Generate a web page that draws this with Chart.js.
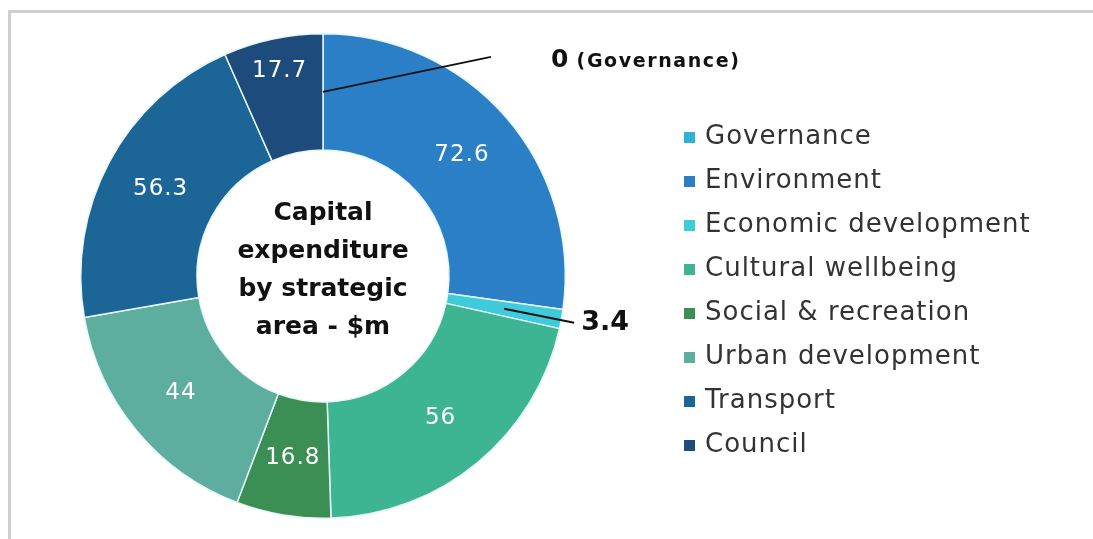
<!DOCTYPE html>
<html lang="en">
<head>
    <meta charset="UTF-8">
    <title>Capital expenditure by strategic area</title>
    <script src="https://cdn.jsdelivr.net/npm/chart.js"></script>
    <style>
        body { margin: 0; padding: 0; background: #fff; }
        #wrap { position: relative; width: 1093px; height: 539px; }
    </style>
</head>
<body>

<div id="wrap">
    <canvas id="capexChart" width="1093" height="539"></canvas>
</div>

<script>
    // Strategic areas and capital expenditure ($m)
    const categories = ['Governance', 'Environment', 'Economic development', 'Cultural wellbeing',
        'Social & recreation', 'Urban development', 'Transport', 'Council'];
    const values = [0, 72.6, 3.4, 56, 16.8, 44, 56.3, 17.7];
    const colours = ['#2fb3d4', '#2b7fc6', '#3fcbdc', '#3db592', '#3b8f55', '#5eae9f', '#1c6697', '#1d4c7c'];
    const centreTitle = ['Capital', 'expenditure', 'by strategic', 'area - $m'];

    // labels shown outside the ring with a leader line
    const callouts = {
        0: { dx: 168, dy: -35, big: '0', small: ' (Governance)' },
        2: { dx: 70, dy: 14, big: '3.4', small: '' }
    };

    const framePlugin = {
        id: 'frame',
        beforeDraw(chart) {
            const ctx = chart.ctx;
            ctx.save();
            ctx.strokeStyle = '#cfcfcf';
            ctx.lineWidth = 3;
            ctx.beginPath();
            ctx.moveTo(9.5, chart.height);
            ctx.lineTo(9.5, 11.5);
            ctx.lineTo(chart.width, 11.5);
            ctx.stroke();
            ctx.restore();
        }
    };

    const labelPlugin = {
        id: 'sliceLabels',
        afterDraw(chart) {
            const ctx = chart.ctx;
            const meta = chart.getDatasetMeta(0);
            const arcs = meta.data;
            ctx.save();

            // values inside the slices
            ctx.fillStyle = '#ffffff';
            ctx.font = '23px "DejaVu Sans"';
            ctx.letterSpacing = '1px';
            ctx.textAlign = 'center';
            ctx.textBaseline = 'middle';
            arcs.forEach((arc, i) => {
                if (callouts[i]) return;
                let p = arc.tooltipPosition();
                if (i === arcs.length - 1) {
                    // council label sits nearer the outer edge
                    const mid = (arc.startAngle + arc.endAngle) / 2;
                    const r = arc.innerRadius + (arc.outerRadius - arc.innerRadius) * 0.72;
                    p = { x: arc.x + Math.cos(mid) * r, y: arc.y + Math.sin(mid) * r };
                }
                ctx.fillText(values[i], p.x, p.y);
            });

            // leader lines and outside labels
            Object.keys(callouts).forEach(k => {
                const c = callouts[k];
                const p = arcs[k].tooltipPosition();
                const ex = p.x + c.dx, ey = p.y + c.dy;
                ctx.strokeStyle = '#111';
                ctx.lineWidth = 2;
                ctx.beginPath();
                ctx.moveTo(p.x, p.y);
                ctx.lineTo(ex, ey);
                ctx.stroke();
                ctx.fillStyle = '#111';
                ctx.textAlign = 'left';
                ctx.letterSpacing = '0px';
                if (c.small) {
                    ctx.font = 'bold 25px "DejaVu Sans"';
                    ctx.fillText(c.big, ex + 60, ey + 4);
                    const w = ctx.measureText(c.big).width;
                    ctx.font = 'bold 19px "DejaVu Sans"';
                    ctx.letterSpacing = '1.6px';
                    ctx.fillText(c.small, ex + 60 + w, ey + 5);
                } else {
                    ctx.font = 'bold 27px "DejaVu Sans"';
                    ctx.fillText(c.big, ex + 7, ey);
                }
            });

            // centre title
            ctx.fillStyle = '#111';
            ctx.textAlign = 'center';
            ctx.letterSpacing = '0px';
            ctx.font = 'bold 25px "DejaVu Sans"';
            const cx = arcs[0].x, cy = arcs[0].y - 6;
            const lh = 38;
            centreTitle.forEach((line, i) => {
                ctx.fillText(line, cx, cy + (i - (centreTitle.length - 1) / 2) * lh);
            });

            // legend
            ctx.textAlign = 'left';
            ctx.font = '26px "DejaVu Sans"';
            ctx.letterSpacing = '1px';
            categories.forEach((name, i) => {
                const y = 137 + i * 44;
                ctx.fillStyle = colours[i];
                ctx.fillRect(684, y - 5, 11, 11);
                ctx.fillStyle = '#333333';
                ctx.fillText(name, 705, y);
            });
            ctx.restore();
        }
    };

    const ctx = document.getElementById('capexChart').getContext('2d');
    const capexChart = new Chart(ctx, {
        type: 'doughnut',
        data: {
            labels: categories,
            datasets: [{
                data: values,
                backgroundColor: colours,
                borderColor: '#e6f7f8',
                borderWidth: 1.5,
                hoverOffset: 0
            }]
        },
        options: {
            responsive: false,
            animation: false,
            cutout: '52%',
            layout: { padding: { left: 80, top: 33, right: 527, bottom: 20 } },
            plugins: {
                legend: { display: false },
                tooltip: { enabled: false }
            }
        },
        plugins: [framePlugin, labelPlugin]
    });
</script>

</body>
</html>
